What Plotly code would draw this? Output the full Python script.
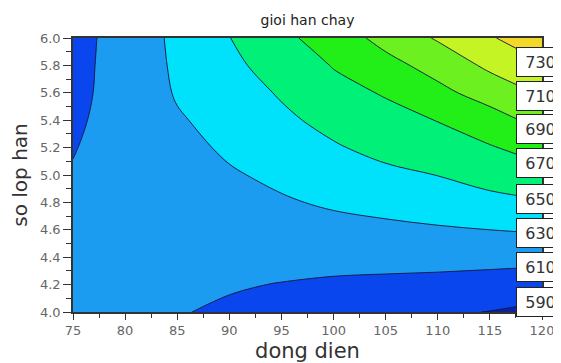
import numpy as np
import plotly.graph_objects as go

# dong dien (x) and so lop han (y) grid
x_vals = [75, 80, 85, 90, 95, 100, 105, 110, 115, 120]
y_vals = [4.0, 4.2, 4.4, 4.6, 4.8, 5.0, 5.2, 5.4, 5.6, 5.8, 6.0]

# gioi han chay values (rows = y, cols = x)
z_row_40 = [620, 616, 611, 607.5, 603.5, 600, 596, 592.5, 589.5, 585]
z_row_42 = [618, 616, 613.5, 611.5, 609.4, 607.4, 606.2, 605, 602.7, 599]
z_row_44 = [616, 616, 616, 616, 616, 616, 616, 616, 616, 616]
z_row_46 = [614, 616, 618, 620, 622, 624, 626, 628, 630, 632]
z_row_48 = [612.5, 616, 620, 624, 628, 632.5, 636, 640, 644, 648]
z_row_50 = [611, 616, 622, 628, 634, 640, 645.5, 650.3, 658, 664]
z_row_52 = [609.3, 616.5, 624, 633, 640, 648, 656, 662.5, 668.5, 678]
z_row_54 = [607.3, 617, 628.3, 636, 646, 656, 664, 670.5, 682, 696]
z_row_56 = [605.6, 617, 631.5, 640, 652, 664, 671.5, 685, 698, 712]
z_row_58 = [604.5, 617.5, 633, 645.7, 658, 671, 684, 697, 714, 728]
z_row_60 = [603.2, 618, 634, 649.6, 665, 680, 696, 712, 728, 744]

levels = [590, 610, 630, 650, 670, 690, 710, 730]
x_ticks = [75, 80, 85, 90, 95, 100, 105, 110, 115, 120]

z = np.array([z_row_40, z_row_42, z_row_44, z_row_46, z_row_48, z_row_50,
              z_row_52, z_row_54, z_row_56, z_row_58, z_row_60])

band_colors = ['#0A22A0', '#0A46EE', '#1C9CF0', '#00E2FC', '#00F078',
               '#22EE18', '#6CF020', '#C4F424', '#F4D828']
nb = len(band_colors) - 1
colorscale = []
for k, c in enumerate(band_colors):
    lo = max(0.0, (k - 0.5) / nb)
    hi = min(1.0, (k + 0.5) / nb)
    colorscale.append([lo, c])
    colorscale.append([hi, c])

step = levels[1] - levels[0]
fig = go.Figure(go.Contour(
    x=x_vals, y=y_vals, z=z,
    autocontour=False,
    contours=dict(start=levels[0], end=levels[-1], size=step,
                  coloring='fill', showlines=True),
    line=dict(color='#14143a', width=0.9, smoothing=1),
    colorscale=colorscale,
    showscale=False,
    hoverinfo='skip',
))

# contour labels at the right edge, where each level meets x = 120
right_col = z[:, -1]
for lv in levels:
    ly = float(np.interp(lv, right_col, y_vals))
    fig.add_annotation(
        x=117.5, y=ly, xref='x', yref='y', xanchor='left', yanchor='middle',
        text=str(lv), showarrow=False, align='center',
        width=39, height=20, borderpad=4,
        bgcolor='white', bordercolor='#222', borderwidth=1,
        font=dict(family='DejaVu Sans', size=16, color='#333'),
    )

axis_common = dict(
    showline=True, linecolor='#333', linewidth=1.5, mirror=True,
    ticks='outside', tickcolor='#333', showgrid=False, zeroline=False,
    automargin=False,
    tickfont=dict(family='DejaVu Sans', size=13, color='#666'),
)

# the page body adds an 8px margin, so the figure is sized to fit the window
fig.update_layout(
    width=553, height=355,
    margin=dict(l=65, r=19, t=30, b=51),
    paper_bgcolor='white', plot_bgcolor='white',
    title=dict(text='gioi han chay', x=0.5, xref='paper', xanchor='center',
               yref='container', y=0.966, yanchor='middle',
               font=dict(family='DejaVu Sans', size=14, color='#222')),
    xaxis=dict(range=[x_ticks[0], x_ticks[-1]], tickvals=x_ticks, ticklen=6,
               minor=dict(dtick=2.5, tick0=75, ticklen=4, ticks='outside', tickcolor='#333'),
               title=dict(text='dong dien', standoff=8,
                          font=dict(family='DejaVu Sans', size=21, color='#333')),
               **axis_common),
    yaxis=dict(range=[y_vals[0], y_vals[-1]], dtick=0.2, tick0=4.0, tickformat='.1f',
               ticklen=8,
               minor=dict(dtick=0.1, tick0=4.0, ticklen=5, ticks='outside', tickcolor='#333'),
               title=dict(text='so lop han', standoff=8,
                          font=dict(family='DejaVu Sans', size=20, color='#333')),
               **axis_common),
)

fig.write_html('out.html')
